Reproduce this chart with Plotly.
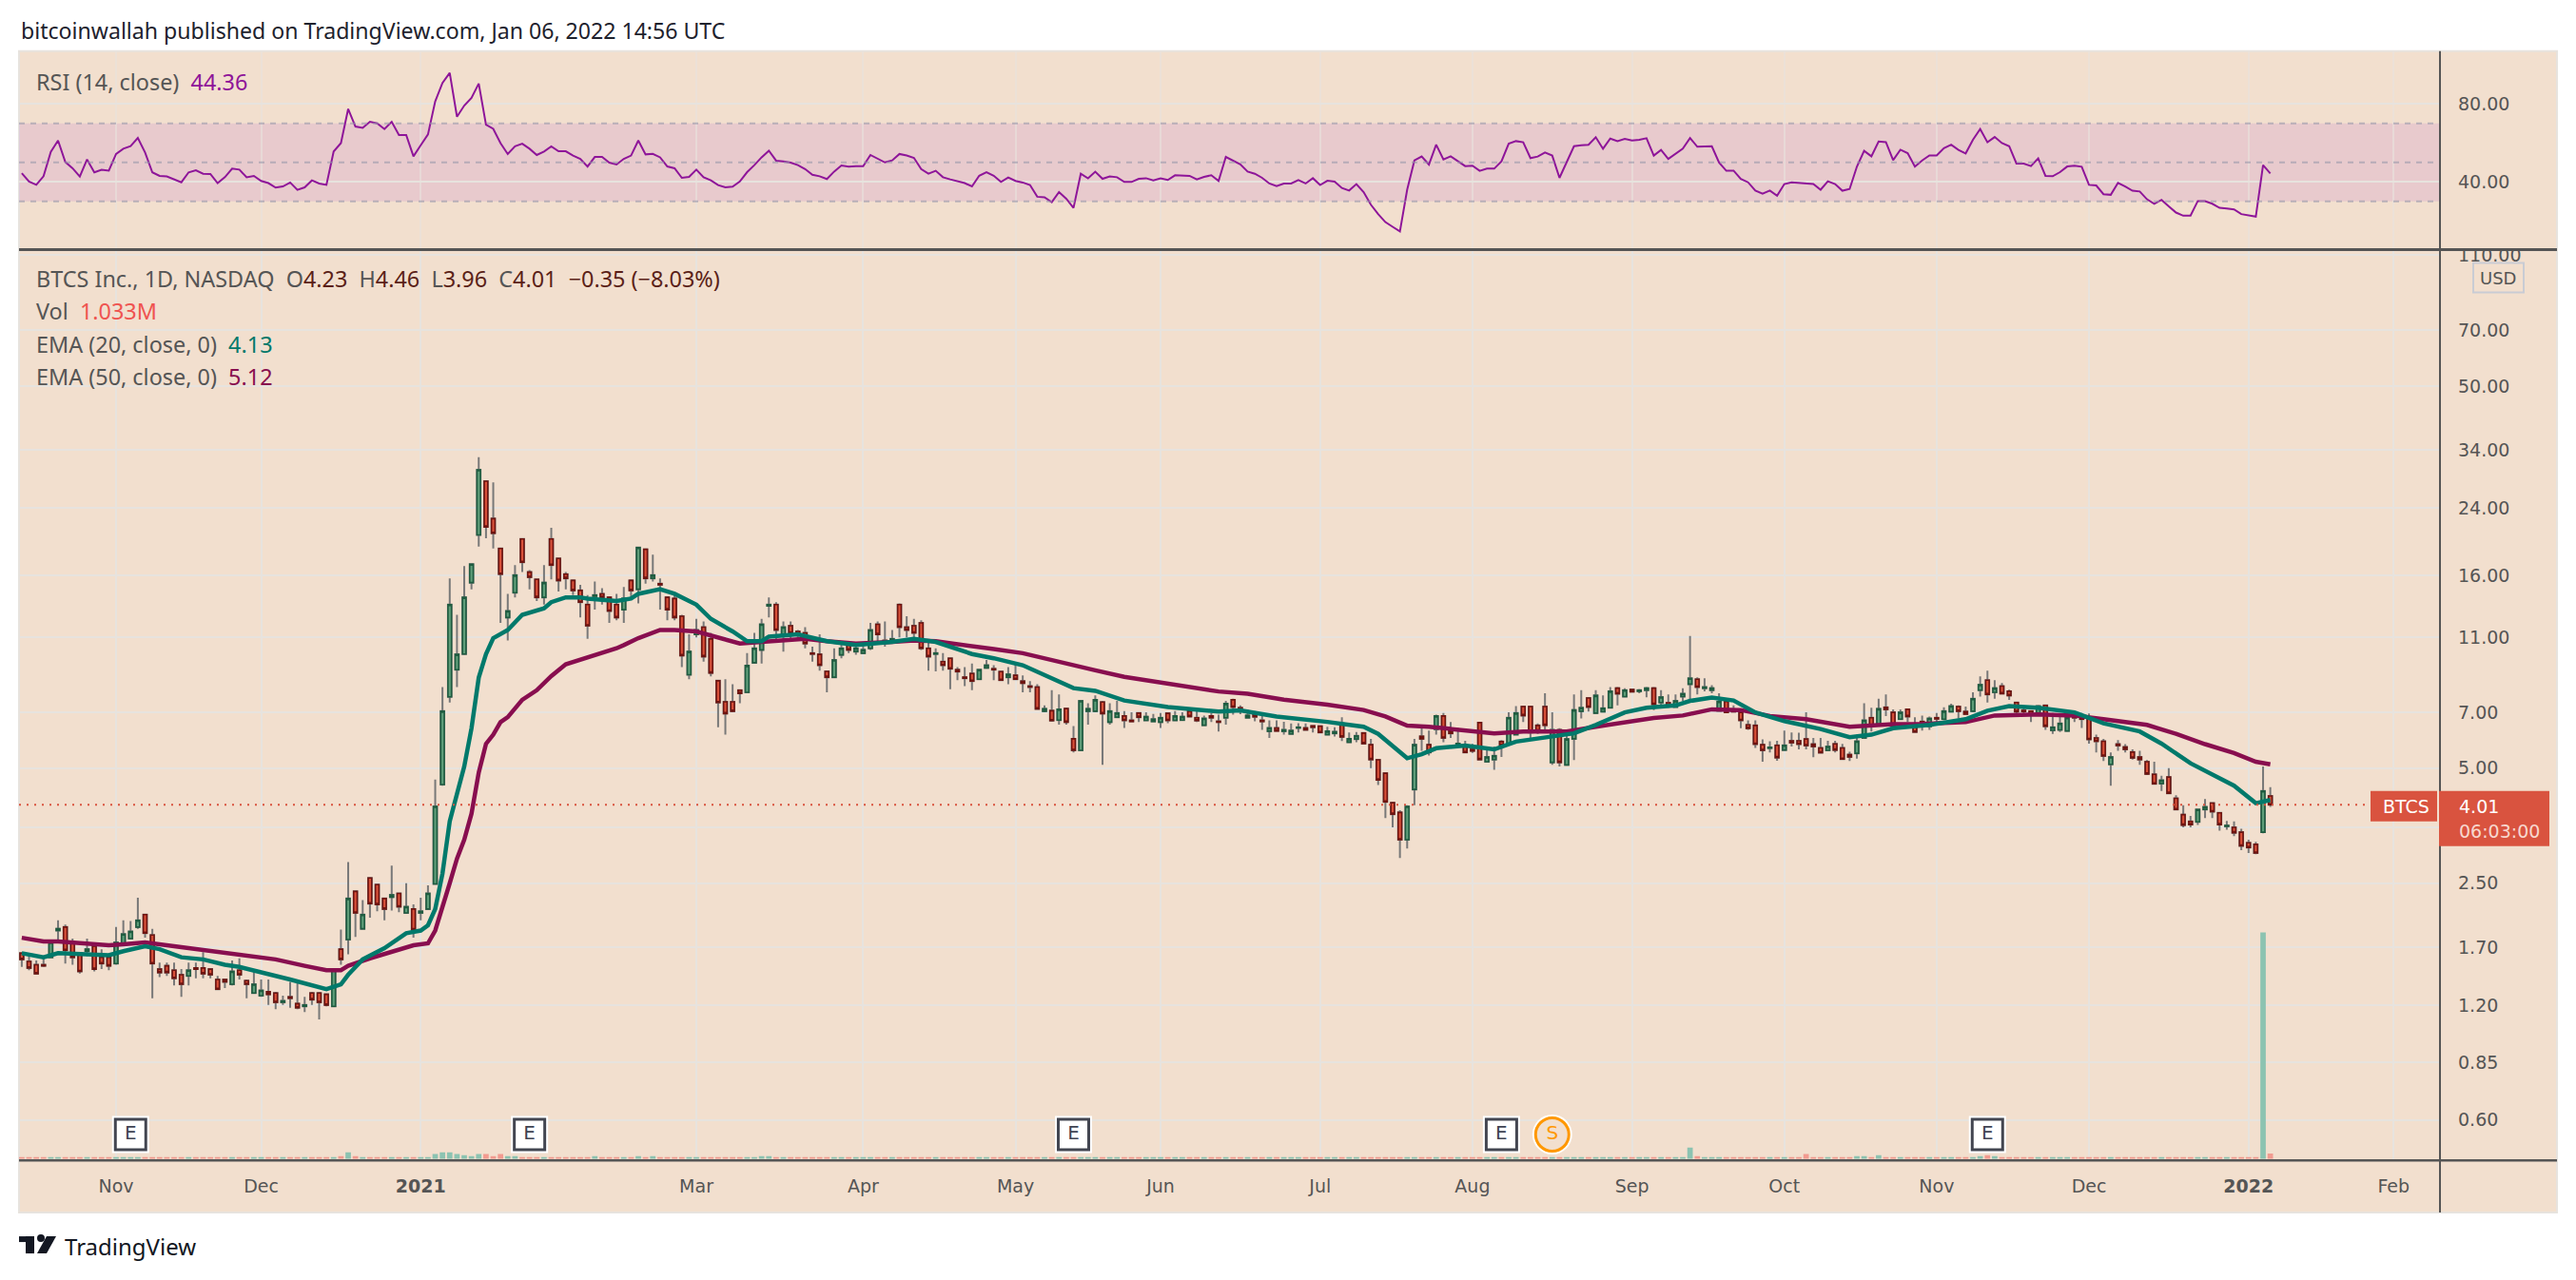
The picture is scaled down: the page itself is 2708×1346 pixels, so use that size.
import plotly.graph_objects as go

W, H = 2708, 1346
# the page keeps the browser's default body margin, these undo it in the photo
PAGE_LEFT = 8
PAGE_TOP = 6.2
PAGE_SCALE = 0.99615

# bar 0 is the first trading day of Nov 2020
first_bar = -13
opens = [
    1.64,1.56,1.53,1.53,1.60,1.88,1.92,1.74,1.64,1.66,
    1.71,1.60,1.60,1.54,1.74,1.79,1.92,2.07,1.83,1.49,
    1.52,1.48,1.44,1.43,1.50,1.50,1.49,1.40,1.40,1.36,
    1.48,1.39,1.29,1.27,1.30,1.29,1.22,1.26,1.21,1.19,
    1.29,1.29,1.28,1.19,1.68,1.78,2.38,1.90,2.58,2.48,
    2.28,2.30,2.35,2.09,2.14,2.09,2.14,2.49,4.53,7.69,
    9.05,9.95,15.3,20.4,28.2,22.5,18.8,12.4,14.4,19.9,
    16.3,15.6,14.0,19.9,17.7,16.1,15.5,14.6,13.4,14.1,
    14.3,14.0,13.4,13.0,15.5,14.7,18.7,15.7,15.2,14.0,
    13.9,12.5,8.78,11.2,11.7,10.9,8.47,7.46,7.46,8.0,
    7.9,9.44,10.2,13.3,13.4,11.2,11.8,11.4,11.3,10.0,
    9.93,8.96,8.65,9.9,10.5,10.1,10.0,10.3,11.9,10.8,
    10.7,13.4,11.7,11.8,12.0,10.3,9.95,9.5,9.7,9.05,
    8.65,8.85,8.55,9.15,9.1,8.95,8.65,8.75,8.45,8.2,
    8.15,7.05,7.07,6.68,7.16,5.97,5.57,7.05,7.05,7.45,
    6.6,6.8,6.85,6.67,6.97,6.67,6.63,6.6,6.96,6.67,
    6.68,7.05,6.78,6.48,6.85,6.63,6.78,7.55,7.2,6.78,
    6.95,6.67,6.25,6.37,6.25,6.15,6.37,6.37,6.45,6.44,
    6.12,6.17,6.55,5.85,5.96,6.18,5.76,5.26,4.85,4.06,
    3.83,3.25,4.4,6.06,5.76,6.33,6.85,6.27,5.7,5.76,
    5.6,6.58,5.2,5.27,5.87,5.8,6.12,7.25,7.25,6.47,
    7.25,5.18,6.3,5.1,5.97,7.05,7.63,6.97,7.03,7.2,
    8.1,7.7,8.03,7.95,8.0,8.1,7.43,7.42,7.23,7.7,
    8.3,8.55,8.1,8.0,7.07,7.47,7.13,7.0,6.49,6.47,
    5.76,5.64,5.74,5.58,5.9,5.9,5.96,5.78,5.65,5.57,
    5.79,5.65,5.43,5.47,6.0,6.78,6.49,7.22,7.0,6.72,
    7.13,6.44,6.62,6.44,6.78,6.72,7.03,7.25,7.03,7.05,
    8.0,8.5,7.9,8.2,7.95,7.43,7.08,7.05,6.97,7.3,
    6.28,6.3,6.26,6.9,6.82,6.72,6.0,5.88,5.12,5.78,
    5.68,5.51,5.35,5.2,4.82,4.56,4.74,4.17,3.78,3.63,
    3.62,3.9,4.05,3.82,3.52,3.5,3.4,3.19,3.16,3.4,
    4.23,
]
highs = [
    1.65,1.64,1.57,1.61,1.78,2.00,1.95,1.79,1.65,1.79,
    1.74,1.68,1.61,1.92,2.00,1.99,2.29,2.08,1.90,1.55,
    1.55,1.55,1.49,1.55,1.55,1.65,1.50,1.43,1.40,1.57,
    1.59,1.40,1.47,1.40,1.40,1.30,1.27,1.38,1.37,1.26,
    1.30,1.30,1.28,1.48,1.89,2.84,2.39,2.26,2.59,2.49,
    2.29,2.78,2.36,2.50,2.20,2.29,2.47,4.67,8.15,15.7,
    12.6,16.9,17.2,32.6,28.3,28.0,18.9,14.3,17.0,20.0,
    16.5,15.7,17.0,21.3,17.8,16.3,15.6,15.1,14.2,15.4,
    14.8,14.1,14.3,14.9,15.6,19.0,18.8,18.1,15.7,14.1,
    14.4,12.6,11.2,12.3,12.1,11.3,8.5,8.55,8.3,8.05,
    10.0,11.3,12.3,14.0,13.6,12.1,12.1,11.5,11.7,10.4,
    11.2,9.0,10.3,10.7,10.7,10.5,10.6,12.0,12.1,12.1,
    11.5,13.5,12.5,12.3,12.2,10.8,10.3,10.0,9.75,9.2,
    9.2,9.4,9.1,9.6,9.3,9.0,9.2,9.4,8.75,8.45,
    8.3,7.3,8.0,7.8,7.2,6.45,7.55,7.4,7.75,7.5,
    7.4,7.5,7.05,7.0,7.0,7.0,6.93,6.97,7.0,7.05,
    7.0,7.08,7.1,6.87,6.97,6.9,7.5,7.6,7.3,7.13,
    7.05,6.93,6.67,6.67,6.61,6.55,6.56,6.55,6.46,6.46,
    6.42,6.4,6.8,6.2,6.22,6.22,5.97,5.27,4.86,4.08,
    3.88,4.0,5.97,6.36,6.27,6.9,6.97,6.6,6.37,5.9,
    5.79,6.6,5.6,5.7,5.92,7.0,7.27,7.27,7.27,6.55,
    7.85,7.0,6.36,6.2,7.8,8.0,7.66,8.0,7.75,8.15,
    8.15,8.1,8.06,8.06,8.15,8.15,8.0,7.8,7.8,8.1,
    11.1,8.65,8.6,8.25,7.85,7.52,7.3,7.16,6.67,6.67,
    5.95,5.88,5.9,6.27,6.2,6.19,7.0,6.0,6.0,5.9,
    5.9,5.79,5.52,6.12,7.4,7.2,7.6,7.8,7.13,7.13,
    7.16,6.8,6.87,6.83,6.97,7.22,7.38,7.3,7.25,7.9,
    8.7,9.0,8.5,8.35,8.03,7.47,7.25,7.08,7.32,7.33,
    6.97,6.96,6.93,7.0,6.97,6.95,6.12,5.97,5.5,5.92,
    5.78,5.6,5.55,5.25,5.2,4.78,5.0,4.25,4.0,3.75,
    3.92,4.15,4.07,3.84,3.64,3.63,3.47,3.25,3.21,5.05,
    4.46,
]
lows = [
    1.51,1.48,1.45,1.51,1.60,1.76,1.54,1.53,1.45,1.61,
    1.47,1.49,1.48,1.53,1.74,1.78,1.90,1.80,1.25,1.42,
    1.43,1.35,1.26,1.35,1.41,1.41,1.41,1.32,1.33,1.35,
    1.40,1.25,1.29,1.26,1.20,1.17,1.20,1.18,1.17,1.15,
    1.20,1.10,1.19,1.19,1.53,1.63,1.81,1.90,2.03,2.11,
    2.00,2.12,2.10,2.08,1.80,2.00,2.13,2.48,4.50,7.43,
    8.15,9.95,14.7,19.0,20.0,18.8,12.0,10.8,14.0,16.3,
    14.7,13.7,13.4,15.6,14.5,14.7,14.2,12.4,10.9,13.0,
    13.4,12.0,12.2,12.0,14.0,13.5,15.2,15.4,13.0,12.2,
    12.2,9.2,8.55,11.0,9.5,8.7,6.4,6.12,7.0,7.4,
    7.85,9.4,9.4,12.4,10.8,10.1,10.7,10.9,10.3,9.5,
    9.0,7.9,8.6,9.7,10.0,9.9,10.0,10.2,10.7,10.4,
    10.6,11.0,11.0,10.8,10.2,9.0,8.96,9.0,8.05,8.5,
    8.2,8.0,8.5,9.1,8.5,8.45,8.3,8.5,7.9,7.9,
    7.15,7.0,6.61,6.5,6.5,5.5,5.55,6.5,7.0,5.1,
    6.5,6.78,6.37,6.6,6.6,6.63,6.6,6.37,6.56,6.65,
    6.67,6.8,6.6,6.45,6.6,6.24,6.5,6.9,6.92,6.75,
    6.63,6.3,6.0,6.24,6.12,6.13,6.2,6.27,6.2,6.18,
    6.1,6.05,5.89,5.83,5.85,5.78,5.0,4.52,3.7,3.5,
    2.91,3.08,4.0,5.55,5.4,6.12,5.85,6.0,5.7,5.48,
    5.48,5.25,5.18,4.95,5.35,5.78,6.1,6.6,5.9,6.15,
    6.2,5.1,5.05,5.08,5.25,6.75,7.03,6.95,7.0,7.18,
    7.3,7.68,7.9,7.85,7.67,7.1,7.2,7.2,7.2,7.5,
    7.5,7.8,7.95,7.85,7.03,6.97,7.0,6.36,6.3,5.65,
    5.2,5.5,5.23,5.56,5.7,5.6,5.6,5.34,5.46,5.55,
    5.5,5.26,5.22,5.3,5.98,6.24,6.47,6.85,6.4,6.68,
    6.6,6.2,6.27,6.3,6.48,6.67,7.0,6.75,6.9,7.02,
    7.7,7.43,7.6,7.8,7.55,6.85,6.9,6.6,6.95,6.3,
    6.15,6.22,6.24,6.6,6.37,5.8,5.5,5.22,4.5,5.55,
    5.5,5.27,5.1,4.8,4.53,4.36,4.28,3.88,3.5,3.5,
    3.55,3.7,3.7,3.43,3.45,3.32,3.05,3.0,2.98,3.38,
    3.96,
]
closes = [
    1.58,1.50,1.45,1.52,1.75,1.90,1.67,1.60,1.47,1.68,
    1.49,1.54,1.52,1.75,1.84,1.87,2.00,1.85,1.54,1.46,
    1.46,1.41,1.36,1.48,1.49,1.45,1.44,1.32,1.38,1.47,
    1.44,1.36,1.36,1.31,1.28,1.22,1.23,1.25,1.18,1.20,
    1.24,1.22,1.20,1.48,1.58,2.28,2.09,2.07,2.21,2.20,
    2.14,2.33,2.17,2.17,1.89,2.11,2.35,3.97,7.05,13.4,
    9.93,14.0,17.1,30.2,21.4,20.6,16.1,12.9,16.0,17.3,
    15.8,14.0,15.3,17.0,15.5,15.7,14.6,13.6,11.8,14.2,
    14.0,12.9,12.4,13.9,14.6,18.9,15.7,16.0,15.1,13.0,
    12.4,9.86,10.1,11.5,9.8,8.88,7.43,6.95,7.05,7.85,
    9.28,10.3,11.9,13.4,11.5,11.7,11.3,11.2,10.6,9.95,
    9.3,8.65,9.6,10.3,10.2,10.3,10.2,11.5,11.2,10.7,
    10.9,11.7,11.5,11.3,10.3,9.8,10.0,9.3,9.1,8.95,
    8.6,8.45,9.05,9.3,9.05,8.5,8.8,8.55,8.35,8.15,
    7.15,7.15,6.66,7.13,6.6,5.57,7.5,7.15,7.55,6.95,
    7.05,6.97,6.67,6.63,6.8,6.82,6.72,6.78,6.67,6.85,
    6.82,6.83,6.66,6.75,6.78,6.6,7.38,7.23,7.1,6.87,
    6.82,6.63,6.37,6.26,6.3,6.27,6.4,6.3,6.4,6.2,
    6.25,6.23,6.04,5.97,6.08,5.8,5.27,4.66,4.08,3.79,
    3.25,3.97,5.76,5.97,5.5,6.85,6.0,6.17,5.8,5.5,
    5.55,5.27,5.35,5.39,5.74,6.78,6.97,6.87,6.2,6.26,
    6.48,6.3,5.18,5.96,7.1,7.2,7.23,7.75,7.18,7.95,
    7.83,8.0,7.93,8.0,8.1,7.35,7.68,7.25,7.5,7.83,
    8.6,8.15,8.15,8.1,7.47,7.0,7.03,6.67,6.36,5.78,
    5.57,5.67,5.33,5.74,5.83,5.78,5.73,5.7,5.49,5.7,
    5.58,5.28,5.35,5.88,6.67,6.47,7.15,7.13,6.45,7.0,
    6.83,6.22,6.48,6.75,6.73,7.05,7.27,7.05,6.93,7.6,
    8.27,7.8,8.1,7.84,7.75,7.03,7.04,6.9,7.27,6.44,
    6.4,6.55,6.78,6.78,6.72,5.95,5.88,5.38,5.35,5.73,
    5.6,5.32,5.27,4.83,4.55,4.65,4.3,3.9,3.55,3.56,
    3.9,3.96,3.85,3.56,3.54,3.39,3.13,3.1,3.0,4.36,
    4.01,
]
volumes = [
    .37,.37,.37,.37,.37,.37,.37,.37,.37,.37,
    .37,.37,.37,.37,.37,.37,.37,.37,.37,.37,
    .37,.37,.37,.37,.37,.37,.37,.37,.37,.37,
    .37,.37,.37,.37,.37,.37,.37,.37,.37,.37,
    .37,.37,.37,.37,.55,1.3,.55,.37,.37,.37,
    .37,.37,.37,.37,.37,.37,.37,.95,1.3,1.3,
    .95,.75,.55,.95,.95,.55,.95,.55,.55,.37,
    .37,.37,.37,.37,.37,.37,.37,.37,.37,.55,
    .37,.37,.37,.37,.37,.55,.37,.55,.37,.37,
    .37,.37,.37,.37,.37,.37,.37,.37,.37,.37,
    .37,.37,.55,.55,.37,.37,.37,.37,.37,.37,
    .37,.37,.37,.37,.37,.37,.37,.37,.37,.37,
    .37,.37,.37,.37,.37,.37,.37,.37,.37,.37,
    .37,.37,.37,.37,.37,.37,.37,.37,.37,.37,
    .37,.37,.37,.37,.37,.37,.37,.37,.37,.37,
    .37,.37,.37,.37,.37,.37,.37,.37,.37,.37,
    .37,.37,.37,.37,.37,.37,.37,.37,.37,.37,
    .37,.37,.37,.37,.37,.37,.37,.37,.37,.37,
    .37,.37,.37,.37,.37,.37,.37,.37,.37,.37,
    .37,.37,.37,.37,.37,.37,.37,.37,.37,.37,
    .37,.37,.37,.37,.37,.37,.37,.37,.37,.37,
    .37,.37,.37,.37,.37,.37,.37,.37,.37,.37,
    .37,.37,.37,.37,.37,.37,.37,.37,.37,.37,
    2.2,.55,.37,.37,.37,.37,.37,.37,.37,.37,
    .37,.37,.37,.37,.37,.37,.95,.37,.37,.37,
    .37,.37,.37,.55,.55,.37,.75,.37,.37,.37,
    .37,.37,.37,.37,.37,.37,.37,.37,.37,.37,
    .55,.75,.55,.37,.37,.37,.37,.37,.37,.37,
    .37,.37,.37,.37,.37,.37,.37,.37,.37,.37,
    .37,.37,.37,.37,.37,.37,.37,.37,.37,.37,
    .37,.37,.37,.37,.37,.37,.37,.37,.37,44.0,
    1.033,
]
rsi = [
    44.5,40.2,38.5,42.9,55.4,61.2,50.2,47.0,42.8,51.5,
    44.9,46.2,45.8,54.3,57.0,58.3,62.5,55.1,44.9,43.1,
    42.8,41.3,39.8,44.9,46.0,44.2,44.1,39.4,42.4,46.8,
    46.3,42.4,43.1,40.5,39.4,37.1,37.7,39.7,35.9,37.2,
    40.8,39.2,38.5,55.6,59.9,77.4,68.4,67.7,70.8,70.0,
    67.1,70.8,64.0,64.0,53.1,58.8,64.3,81.3,90.7,95.9,
    73.4,79.1,83.0,90.4,69.3,67.2,59.9,54.3,58.3,59.6,
    57.0,53.8,55.6,58.2,55.7,55.7,53.5,51.8,47.9,52.8,
    52.8,49.9,48.9,51.8,53.5,61.2,54.1,54.4,52.6,47.9,
    47.0,42.1,42.6,46.3,42.4,40.8,38.4,37.2,37.6,40.2,
    45.0,48.6,52.6,56.0,50.9,50.5,49.9,48.6,46.6,43.7,
    42.9,41.5,45.3,48.4,47.8,48.1,48.1,53.8,51.8,50.0,
    51.0,54.3,53.5,52.3,46.6,44.2,45.7,42.4,41.3,40.5,
    39.4,37.7,43.2,45.0,43.2,40.0,42.3,40.5,39.7,38.4,
    32.4,32.1,29.6,34.8,31.4,26.7,44.2,41.8,45.2,41.6,
    42.8,42.4,40.0,40.0,41.6,41.9,40.8,41.8,41.0,43.4,
    43.1,43.1,41.3,42.6,43.4,40.5,52.8,50.9,49.0,45.3,
    44.2,42.1,39.2,37.9,39.2,39.2,41.0,39.2,41.9,38.4,
    40.6,40.2,36.9,35.6,38.9,34.8,28.3,23.5,19.4,17.0,
    14.6,36.0,51.0,53.0,48.9,59.1,51.5,53.1,50.5,48.1,
    48.3,45.7,46.8,46.8,50.5,59.6,60.9,60.3,52.2,53.0,
    55.1,53.5,42.1,50.2,58.3,58.8,59.0,62.9,57.0,62.2,
    60.9,62.0,61.2,61.6,62.4,53.5,56.4,51.8,54.3,57.0,
    62.5,58.0,58.2,58.3,49.9,45.7,45.8,41.5,39.8,35.6,
    34.0,35.6,32.9,38.9,39.8,39.5,39.2,38.9,36.0,40.3,
    38.9,35.5,36.4,47.8,55.9,53.1,60.7,60.4,51.2,56.5,
    54.7,47.8,51.0,53.6,53.6,57.3,59.1,56.4,54.6,61.6,
    67.1,60.3,63.0,59.9,58.3,49.4,49.4,48.1,52.0,43.1,
    42.9,45.0,47.9,48.3,47.8,38.5,38.2,33.7,33.4,39.5,
    37.6,35.5,35.1,31.1,28.8,30.8,27.5,24.3,22.7,22.7,
    30.2,30.1,28.8,26.7,26.4,25.9,23.5,22.7,22.2,48.6,
    44.36,
]

ema20_bars = [-13,-10,-8,-5,-1,1,4,6,9,12,15,17,21,24,29,31,32,34,37,40,42,43,44,45,46,47,48,49,50,51,52,54,56,59,60,62,64,65,69,71,72,75,77,80,82,85,87,89,90,94,98,102,107,110,113,118,121,125,128,132,135,139,145,152,155,160,167,172,174,176,178,180,182,186,190,193,198,201,204,208,211,215,217,220,223,226,230,235,239,242,245,250,255,258,261,265,270,274,279,282,286,292,295,296,297]
ema20_vals = [1.64,1.60,1.64,1.63,1.62,1.66,1.71,1.68,1.60,1.58,1.53,1.51,1.45,1.40,1.32,1.36,1.44,1.58,1.69,1.85,1.88,1.94,2.14,2.65,3.63,4.24,5.05,6.36,8.63,9.95,10.95,11.5,12.6,13.1,13.6,14.0,14.0,13.9,13.7,13.9,14.3,14.7,14.3,13.4,12.3,11.4,10.75,10.75,11.05,11.2,10.75,10.5,10.7,10.9,10.7,9.95,9.7,9.3,8.78,8.1,7.97,7.52,7.23,7.03,7.08,6.83,6.61,6.42,6.15,5.72,5.31,5.44,5.64,5.73,5.6,5.87,6.05,6.17,6.49,7.0,7.2,7.3,7.5,7.65,7.52,7.0,6.64,6.33,6.03,6.12,6.36,6.49,6.72,7.07,7.27,7.2,7.0,6.55,6.24,5.8,5.15,4.5,4.05,4.1,4.13]
ema50_bars = [-13,-10,-8,-5,-1,1,4,9,13,17,22,26,29,31,32,35,37,39,41,43,44,46,47,48,49,50,51,52,53,54,56,58,60,62,66,69,70,72,75,77,80,83,86,89,95,98,102,107,110,113,118,121,125,128,132,135,139,145,152,156,161,167,172,175,177,178,181,187,190,194,200,204,208,212,216,220,224,228,233,239,245,249,255,259,265,270,274,280,284,288,292,295,297]
ema50_vals = [1.80,1.76,1.76,1.74,1.72,1.73,1.75,1.70,1.66,1.62,1.58,1.52,1.48,1.48,1.52,1.59,1.63,1.68,1.72,1.74,1.88,2.5,2.9,3.25,3.8,4.87,5.79,6.12,6.6,6.8,7.55,8.0,8.71,9.35,9.86,10.3,10.5,10.95,11.5,11.5,11.4,11.0,10.6,10.7,10.9,10.75,10.6,10.7,10.8,10.75,10.4,10.25,10.0,9.68,9.26,9.02,8.67,8.31,7.94,7.83,7.56,7.33,7.1,6.83,6.55,6.46,6.42,6.26,6.17,6.24,6.24,6.42,6.61,6.77,6.87,7.13,7.1,6.85,6.72,6.42,6.52,6.53,6.6,6.87,6.91,6.87,6.72,6.49,6.15,5.78,5.48,5.2,5.12]

tick_bars = [0, 20, 42, 80, 103, 124, 144, 166, 187, 209, 230, 251, 272, 294, 314]
tick_labels = ["Nov", "Dec", "<b>2021</b>", "Mar", "Apr", "May", "Jun", "Jul", "Aug", "Sep", "Oct", "Nov", "Dec", "<b>2022</b>", "Feb"]
price_ticks = [110, 70, 50, 34, 24, 16, 11, 7, 5, 3.5, 2.5, 1.7, 1.2, 0.85, 0.6]
price_labels = ["110.00", "70.00", "50.00", "34.00", "24.00", "16.00", "11.00", "7.00", "5.00", "", "2.50", "1.70", "1.20", "0.85", "0.60"]
rsi_ticks = [80, 40]
earnings_bars = [2, 57, 132, 191, 258]
split_bars = [198]
marker_price = 0.55

bars = list(range(first_bar, first_bar + len(closes)))
assert len(opens) == len(highs) == len(lows) == len(closes) == len(volumes) == len(rsi)
assert len(ema20_bars) == len(ema20_vals) and len(ema50_bars) == len(ema50_vals)

PEACH = "#f2dfce"
GRID = "#e7e3de"
AXIS = "#555555"
LABEL = "#555555"
RED = "#d9533f"
FONT = "Noto Sans"
TICKFONT = "DejaVu Sans"


def fx(x):
    return (x - PAGE_LEFT) / W


def fy(y):
    return 1 - ((y - PAGE_TOP) / PAGE_SCALE - 8) / H


fig = go.Figure()

vol_colors = ["#8cc3b1" if c >= o else "#f29b90" for o, c in zip(opens, closes)]
fig.add_trace(go.Bar(x=bars, y=volumes, yaxis="y3", marker=dict(color=vol_colors, line=dict(width=0)), hoverinfo="skip"))

# wicks in grey first, then the bodies on top of them
fig.add_trace(go.Candlestick(
    x=bars, open=opens, high=highs, low=lows, close=closes, hoverinfo="skip",
    increasing=dict(line=dict(color="#787878", width=2), fillcolor="#787878"),
    decreasing=dict(line=dict(color="#787878", width=2), fillcolor="#787878"),
))
fig.add_trace(go.Candlestick(
    x=bars, open=opens, close=closes, hoverinfo="skip",
    high=[max(o, c) for o, c in zip(opens, closes)],
    low=[min(o, c) for o, c in zip(opens, closes)],
    increasing=dict(line=dict(color="#1f5c40", width=1.6), fillcolor="#5f9e7a"),
    decreasing=dict(line=dict(color="#6e1410", width=1.6), fillcolor="#d9513a"),
))

fig.add_trace(go.Scatter(x=ema50_bars, y=ema50_vals, mode="lines", line=dict(color="#880e4f", width=4.5), hoverinfo="skip"))
fig.add_trace(go.Scatter(x=ema20_bars, y=ema20_vals, mode="lines", line=dict(color="#00796b", width=4.5), hoverinfo="skip"))

fig.add_trace(go.Scatter(x=bars, y=rsi, mode="lines", xaxis="x2", yaxis="y2", line=dict(color="#8e1599", width=2), hoverinfo="skip"))

# earnings and split flags
fig.add_trace(go.Scatter(
    x=earnings_bars, y=[marker_price] * len(earnings_bars), mode="markers", hoverinfo="skip",
    marker=dict(symbol="square", size=39, color="#ffffff"),
))
fig.add_trace(go.Scatter(
    x=earnings_bars, y=[marker_price] * len(earnings_bars), mode="markers+text", hoverinfo="skip",
    text=["E"] * len(earnings_bars), textposition="middle center",
    textfont=dict(family=TICKFONT, size=20, color="#3f4352"),
    marker=dict(symbol="square", size=32, color="#ffffff", line=dict(color="#434651", width=3)),
))
fig.add_trace(go.Scatter(
    x=split_bars, y=[marker_price], mode="markers", hoverinfo="skip",
    marker=dict(symbol="circle", size=42, color="#ffffff"),
))
fig.add_trace(go.Scatter(
    x=split_bars, y=[marker_price], mode="markers+text", hoverinfo="skip",
    text=["S"], textposition="middle center",
    textfont=dict(family=TICKFONT, size=20, color="#ff9800"),
    marker=dict(symbol="circle", size=35, color=PEACH, line=dict(color="#ff9800", width=3)),
))

shapes = [
    dict(type="rect", xref="paper", yref="paper", x0=fx(20), x1=fx(2688), y0=fy(1276), y1=fy(53),
         fillcolor=PEACH, line=dict(color=GRID, width=2), layer="below"),
    dict(type="rect", xref="x domain", yref="y2", x0=0, x1=1, y0=30, y1=70,
         fillcolor="rgba(155,39,200,0.11)", line=dict(width=0), layer="below"),
]
for level in (70, 50, 30):
    shapes.append(dict(type="line", xref="x domain", yref="y2", x0=0, x1=1, y0=level, y1=level,
                       line=dict(color="rgba(150,150,170,0.6)", width=2, dash="6px,6px")))
shapes += [
    dict(type="line", xref="paper", yref="paper", x0=fx(20), x1=fx(2688), y0=fy(262), y1=fy(262), line=dict(color=AXIS, width=3)),
    dict(type="line", xref="paper", yref="paper", x0=fx(20), x1=fx(2688), y0=fy(1221), y1=fy(1221), line=dict(color=AXIS, width=2.5)),
    dict(type="line", xref="paper", yref="paper", x0=fx(2565), x1=fx(2565), y0=fy(1276), y1=fy(53), line=dict(color=AXIS, width=2)),
    dict(type="line", xref="paper", yref="y", x0=fx(20), x1=fx(2490), y0=closes[-1], y1=closes[-1],
         line=dict(color=RED, width=2, dash="2px,6px")),
    dict(type="rect", xref="paper", yref="paper", x0=fx(2492), x1=fx(2562), y0=fy(864), y1=fy(832), fillcolor=RED, line=dict(width=0)),
    dict(type="rect", xref="paper", yref="paper", x0=fx(2564), x1=fx(2680), y0=fy(890), y1=fy(832), fillcolor=RED, line=dict(width=0)),
    dict(type="rect", xref="paper", yref="paper", x0=fx(2600), x1=fx(2653), y0=fy(307), y1=fy(276), fillcolor="rgba(0,0,0,0)",
         line=dict(color="#c9ccd4", width=2)),
    # TradingView logo
    dict(type="rect", xref="paper", yref="paper", x0=fx(20), x1=fx(36), y0=fy(1307), y1=fy(1301), fillcolor="#131722", line=dict(width=0)),
    dict(type="rect", xref="paper", yref="paper", x0=fx(27), x1=fx(36), y0=fy(1319), y1=fy(1301), fillcolor="#131722", line=dict(width=0)),
    dict(type="circle", xref="paper", yref="paper", x0=fx(39), x1=fx(47), y0=fy(1307), y1=fy(1299), fillcolor="#131722", line=dict(width=0)),
    dict(type="path", xref="paper", yref="paper", fillcolor="#131722", line=dict(width=0),
         path=f"M {fx(49)} {fy(1301)} L {fx(59)} {fy(1301)} L {fx(49)} {fy(1319)} L {fx(39)} {fy(1319)} Z"),
]


def note(x, y, text, size=23.4, family=FONT, color=LABEL, anchor="left"):
    return dict(xref="paper", yref="paper", x=fx(x), y=fy(y), text=text, showarrow=False,
                xanchor=anchor, yanchor="middle", align="left", font=dict(family=family, size=size, color=color))


def val(text, color):
    return f'<span style="color:{color}">{text}</span>'


DK = "#5b1f18"
annotations = [
    note(20, 31, "bitcoinwallah published on TradingView.com, Jan 06, 2022 14:56 UTC", size=23.1, color="#1e222d"),
    note(36, 85, "RSI (14, close)  " + val("44.36", "#8e1599")),
    note(36, 293, "BTCS Inc., 1D, NASDAQ  O" + val("4.23", DK) + "  H" + val("4.46", DK) + "  L" + val("3.96", DK)
         + "  C" + val("4.01", DK) + "  " + val("−0.35 (−8.03%)", DK)),
    note(36, 327, "Vol  " + val("1.033M", "#ef5350")),
    note(36, 362, "EMA (20, close, 0)  " + val("4.13", "#00796b")),
    note(36, 396, "EMA (50, close, 0)  " + val("5.12", "#880e4f")),
    note(2503, 848, "BTCS", size=19, family=TICKFONT, color="#ffffff"),
    note(2583, 848, "4.01", size=19, family=TICKFONT, color="#ffffff"),
    note(2583, 874, "06:03:00", size=19, family=TICKFONT, color="#f7d8cf"),
    note(2626, 292, "USD", size=18, family=TICKFONT, anchor="center"),
    note(66, 1311, "TradingView", size=24, color="#131722"),
]

fig.update_layout(
    width=W, height=H, margin=dict(l=0, r=0, t=0, b=0), autosize=False,
    paper_bgcolor="#ffffff", plot_bgcolor="rgba(0,0,0,0)",
    showlegend=False, bargap=0.25, boxmode="overlay", shapes=shapes, annotations=annotations,
    xaxis=dict(domain=[fx(20), fx(2565)], range=[-13.38, 320.39], anchor="y", rangeslider=dict(visible=False),
               tickmode="array", tickvals=tick_bars, ticktext=tick_labels, showgrid=True, gridcolor=GRID, gridwidth=2,
               zeroline=False, showline=False, ticks="", ticklabelstandoff=15,
               tickfont=dict(family=TICKFONT, size=19, color=LABEL)),
    xaxis2=dict(domain=[fx(20), fx(2565)], matches="x", anchor="y2", tickmode="array", tickvals=tick_bars, showticklabels=False,
                showgrid=True, gridcolor="rgba(231,227,222,0.6)", gridwidth=1.5, zeroline=False, ticks=""),
    yaxis=dict(domain=[fy(1221), fy(264)], type="log", range=[-0.3236, 2.0512], side="right", anchor="x", overlaying="y3",
               tickmode="array", tickvals=price_ticks, ticktext=price_labels,
               showgrid=True, gridcolor=GRID, gridwidth=2, zeroline=False, showline=False, ticks="", ticklabelstandoff=18,
               tickfont=dict(family=TICKFONT, size=19, color=LABEL)),
    yaxis2=dict(domain=[fy(261), fy(53)], range=[5.8, 107], side="right", anchor="x2",
                tickmode="array", tickvals=rsi_ticks, ticktext=[f"{r:.2f}" for r in rsi_ticks],
                showgrid=True, gridcolor=GRID, gridwidth=2, zeroline=False, showline=False, ticks="", ticklabelstandoff=18,
                tickfont=dict(family=TICKFONT, size=19, color=LABEL)),
    yaxis3=dict(domain=[fy(1219.5), fy(264)], range=[0, 176.2], anchor="x", side="left", visible=False, showgrid=False),
)

fig.write_html("out.html")
